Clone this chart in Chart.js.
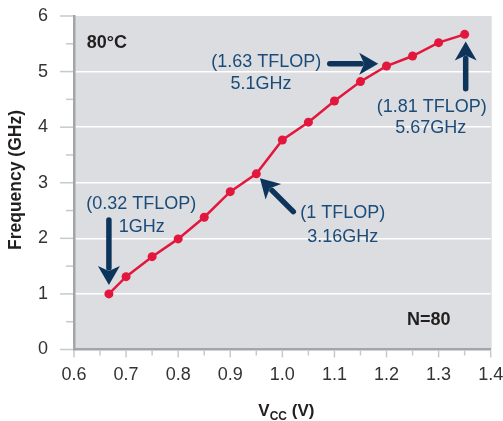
<!DOCTYPE html>
<html lang="en">
<head>
    <meta charset="UTF-8">
    <title>Frequency vs VCC at 80°C</title>
    <script src="https://cdn.jsdelivr.net/npm/chart.js@4.4.0/dist/chart.umd.min.js"></script>
    <style>
        html, body { margin: 0; padding: 0; background: #fff; }
        #wrap { width: 503px; height: 421px; position: relative; }
    </style>
</head>
<body>
    <div id="wrap"><canvas id="freqChart"></canvas></div>

    <script>
        // Data
        const vcc = [0.667, 0.70, 0.75, 0.80, 0.85, 0.90, 0.95, 1.00, 1.05, 1.10, 1.15, 1.20, 1.25, 1.30, 1.35];
        const freq = [1.00, 1.31, 1.67, 1.99, 2.38, 2.84, 3.16, 3.77, 4.09, 4.47, 4.82, 5.10, 5.28, 5.52, 5.67];

        // Callout texts and arrows (data coordinates)
        const calloutText = [
            { x: 0.729, y: 2.62, text: '(0.32 TFLOP)' },
            { x: 0.730, y: 2.21, text: '1GHz' },
            { x: 0.969, y: 5.175, text: '(1.63 TFLOP)' },
            { x: 0.959, y: 4.78, text: '5.1GHz' },
            { x: 1.287, y: 4.37, text: '(1.81 TFLOP)' },
            { x: 1.285, y: 3.99, text: '5.67GHz' },
            { x: 1.116, y: 2.457, text: '(1 TFLOP)' },
            { x: 1.116, y: 2.03, text: '3.16GHz' }
        ];
        const calloutArrows = [
            { from: [0.667, 2.33], to: [0.667, 1.16] },
            { from: [1.091, 5.14], to: [1.184, 5.14] },
            { from: [1.352, 4.69], to: [1.352, 5.54] },
            { from: [1.021, 2.48], to: [0.957, 3.08] }
        ];

        const FONT = "'Liberation Sans', Arial, Helvetica, sans-serif";
        const RED = '#e3173d';
        const NAVY = '#0d355c';
        const TEXT_BLUE = '#1b4b78';

        function drawArrow(ctx, x1, y1, x2, y2) {
            const ang = Math.atan2(y2 - y1, x2 - x1);
            const headLen = 19, headHalf = 11;
            const bx = x2 - Math.cos(ang) * headLen;
            const by = y2 - Math.sin(ang) * headLen;
            ctx.save();
            ctx.strokeStyle = NAVY;
            ctx.fillStyle = NAVY;
            ctx.lineWidth = 5.5;
            ctx.lineCap = 'round';
            ctx.beginPath();
            ctx.moveTo(x1, y1);
            ctx.lineTo(bx + Math.cos(ang) * 2, by + Math.sin(ang) * 2);
            ctx.stroke();
            ctx.beginPath();
            ctx.moveTo(x2, y2);
            ctx.lineTo(bx + Math.cos(ang + Math.PI / 2) * headHalf, by + Math.sin(ang + Math.PI / 2) * headHalf);
            ctx.lineTo(bx + Math.cos(ang) * 5, by + Math.sin(ang) * 5);
            ctx.lineTo(bx - Math.cos(ang + Math.PI / 2) * headHalf, by - Math.sin(ang + Math.PI / 2) * headHalf);
            ctx.closePath();
            ctx.fill();
            ctx.restore();
        }

        const decorPlugin = {
            id: 'decor',
            beforeDraw(chart) {
                const { ctx, chartArea: a } = chart;
                ctx.save();
                ctx.fillStyle = '#dcdde0';
                ctx.fillRect(a.left, a.top, a.right - a.left + 1, a.bottom - a.top);
                ctx.restore();
            },
            afterDraw(chart) {
                const { ctx, chartArea: a, scales: { x, y } } = chart;
                ctx.save();
                // tick marks, major and minor
                ctx.strokeStyle = '#c9c9cb';
                ctx.lineWidth = 1.5;
                for (let i = 0; i <= 12; i++) {
                    const py = y.getPixelForValue(i * 0.5);
                    const len = i % 2 === 0 ? 13 : 7;
                    ctx.beginPath();
                    ctx.moveTo(a.left - 1, py);
                    ctx.lineTo(a.left - 1 - len, py);
                    ctx.stroke();
                }
                for (let i = 0; i <= 16; i++) {
                    const px = x.getPixelForValue(0.6 + i * 0.05);
                    const len = i % 2 === 0 ? 7 : 5;
                    ctx.beginPath();
                    ctx.moveTo(px, a.bottom + 1);
                    ctx.lineTo(px, a.bottom + 1 + len);
                    ctx.stroke();
                }

                // axis titles
                ctx.fillStyle = '#231f20';
                ctx.font = 'bold 17.5px ' + FONT;
                ctx.textAlign = 'center';
                ctx.textBaseline = 'middle';
                ctx.save();
                ctx.translate(16, 180);
                ctx.rotate(-Math.PI / 2);
                ctx.fillText('Frequency (GHz)', 0, 0);
                ctx.restore();

                ctx.textAlign = 'left';
                ctx.textBaseline = 'alphabetic';
                const parts = [['V', 'bold 17px ', 0], ['CC', 'bold 12px ', 4], [' (V)', 'bold 17px ', 0]];
                let total = 0;
                parts.forEach(p => { ctx.font = p[1] + FONT; total += ctx.measureText(p[0]).width; });
                let cx = (a.left + a.right) / 2 + 4 - total / 2;
                const base = 416;
                parts.forEach(p => {
                    ctx.font = p[1] + FONT;
                    ctx.fillText(p[0], cx, base + p[2]);
                    cx += ctx.measureText(p[0]).width;
                });

                // labels inside the plot
                ctx.font = 'bold 18px ' + FONT;
                ctx.textBaseline = 'middle';
                ctx.textAlign = 'left';
                ctx.fillText('80°C', x.getPixelForValue(0.6245), y.getPixelForValue(5.52));
                ctx.textAlign = 'center';
                ctx.fillText('N=80', x.getPixelForValue(1.281), y.getPixelForValue(0.53));

                // callouts
                ctx.font = '18px ' + FONT;
                ctx.fillStyle = TEXT_BLUE;
                calloutText.forEach(t => {
                    ctx.fillText(t.text, x.getPixelForValue(t.x), y.getPixelForValue(t.y));
                });
                calloutArrows.forEach(ar => {
                    drawArrow(ctx,
                        x.getPixelForValue(ar.from[0]), y.getPixelForValue(ar.from[1]),
                        x.getPixelForValue(ar.to[0]), y.getPixelForValue(ar.to[1]));
                });
                ctx.restore();
            }
        };

        const ctx = document.getElementById('freqChart').getContext('2d');
        const freqChart = new Chart(ctx, {
            type: 'line',
            data: {
                datasets: [{
                    label: 'Frequency',
                    data: vcc.map((v, i) => ({ x: v, y: freq[i] })),
                    borderColor: RED,
                    backgroundColor: RED,
                    borderWidth: 2.5,
                    pointRadius: 4.5,
                    pointBorderWidth: 0,
                    tension: 0
                }]
            },
            options: {
                responsive: true,
                maintainAspectRatio: false,
                animation: false,
                layout: { padding: { left: 0, right: 12.3, top: 16, bottom: 0 } },
                scales: {
                    x: {
                        type: 'linear',
                        min: 0.6,
                        max: 1.4,
                        afterFit: s => {
                            s.height = 71.5;
                            s.paddingLeft = 0;
                            s.paddingRight = 0;
                        },
                        ticks: {
                            stepSize: 0.05,
                            autoSkip: false,
                            maxRotation: 0,
                            padding: 15,
                            color: '#333',
                            font: { family: FONT, size: 18 },
                            callback: v => {
                                const n = Math.round(v * 100);
                                return n % 10 === 0 ? (n / 100).toFixed(1) : '';
                            }
                        },
                        grid: { color: 'rgba(0,0,0,0)', drawTicks: false },
                        border: { display: true, color: '#a4a5a8', width: 2.5 }
                    },
                    y: {
                        min: 0,
                        max: 6,
                        afterFit: s => {
                            s.width = 74;
                            s.paddingTop = 0;
                            s.paddingBottom = 0;
                        },
                        ticks: {
                            stepSize: 0.5,
                            autoSkip: false,
                            padding: 26,
                            color: '#333',
                            font: { family: FONT, size: 18 },
                            callback: v => (Number.isInteger(v) ? String(v) : '')
                        },
                        grid: {
                            drawTicks: false,
                            lineWidth: 1.5,
                            color: c => {
                                const v = c.tick ? c.tick.value : 0;
                                return Number.isInteger(v) && v > 0 && v < 6 ? '#ffffff' : 'rgba(0,0,0,0)';
                            }
                        },
                        border: { display: true, color: '#a4a5a8', width: 2.5 }
                    }
                },
                plugins: {
                    legend: { display: false },
                    tooltip: { enabled: false }
                }
            },
            plugins: [decorPlugin]
        });
    </script>
</body>
</html>
